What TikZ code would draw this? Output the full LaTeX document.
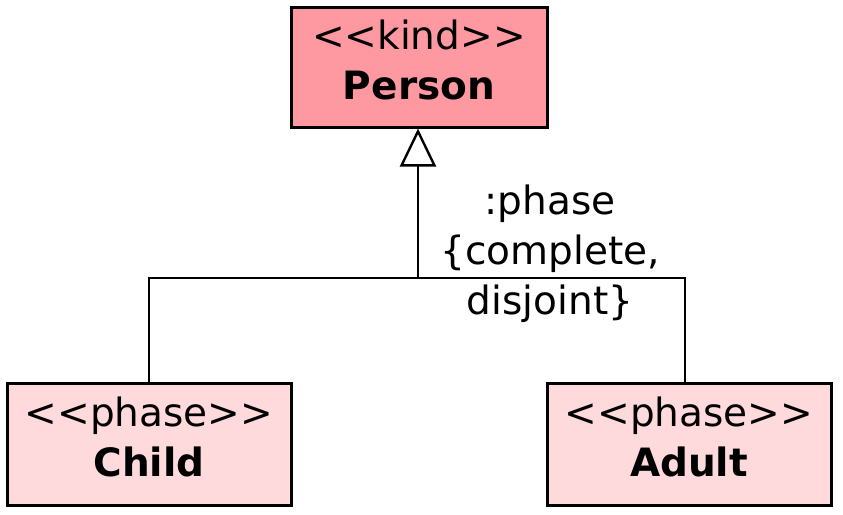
\documentclass[tikz,border=0pt]{standalone}
\usepackage{fontspec}
\setmainfont{DejaVu Sans}
\usetikzlibrary{arrows.meta}
\definecolor{kindpink}{RGB}{255,153,161}
\definecolor{phasepink}{RGB}{255,218,221}
\newcommand{\stereo}[1]{<\kern0pt<#1>\kern0pt>}
\newcommand{\lift}{\rule[-7pt]{0pt}{0pt}}

\begin{document}
\begin{tikzpicture}[x=0.5pt,y=-0.5pt,
  umlclass/.style={draw=black, line width=1.5pt, align=center, inner sep=0pt,
    font=\fontsize{19.5}{25}\selectfont},
  kindbox/.style={umlclass, fill=kindpink, minimum width=128pt, minimum height=60pt},
  phasebox/.style={umlclass, fill=phasepink, minimum width=142pt, minimum height=61pt},
  genline/.style={line width=1.2pt},
  gentip/.style={-{Triangle[open, length=19pt, width=18pt, line width=1.2pt]}}]

\useasboundingbox (0,0) rectangle (843,515);

\node[kindbox]  (person) at (419,67)  {\stereo{kind}\\\textbf{Person}\lift};
\node[phasebox] (child)  at (149,444) {\stereo{phase}\\\textbf{Child}\lift};
\node[phasebox] (adult)  at (689,444) {\stereo{phase}\\\textbf{Adult}\lift};

\coordinate (gs) at (418,278);

\draw[genline, gentip] (gs) -- (person.south -| gs);
\draw[genline] (child.north) |- (gs) -| ([xshift=-2pt]adult.north);

\node[align=center, font=\fontsize{19.5}{25}\selectfont] (gslabel) at (550,254)
  {:phase\\\{complete,\\disjoint\}};
\end{tikzpicture}
\end{document}
